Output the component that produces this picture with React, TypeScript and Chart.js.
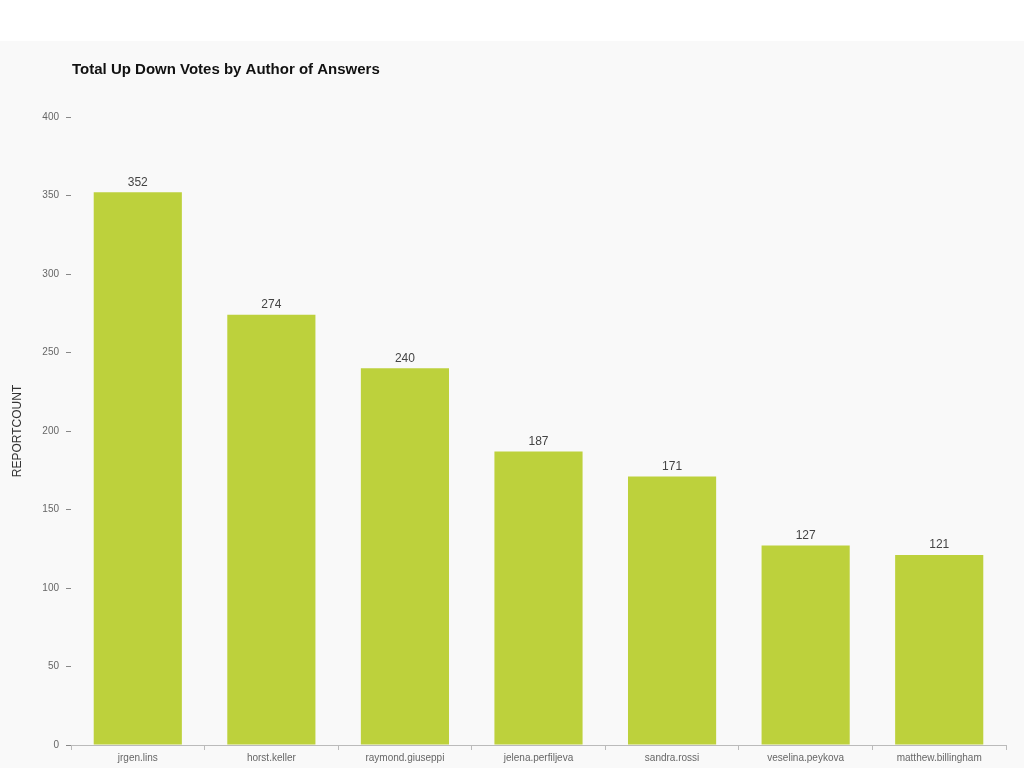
import React, { useEffect, useRef } from "react";
import { Chart, registerables } from "chart.js";

Chart.register(...registerables);

const categories = [
  "jrgen.lins",
  "horst.keller",
  "raymond.giuseppi",
  "jelena.perfiljeva",
  "sandra.rossi",
  "veselina.peykova",
  "matthew.billingham",
];
const reportCounts = [352, 274, 240, 187, 171, 127, 121];
const chartTitle = "Total Up Down Votes by Author of Answers";
const yAxisTitle = "REPORTCOUNT";

const FONT = "'Liberation Sans', Arial, Helvetica, sans-serif";

const extrasPlugin = {
  id: "extras",
  afterDatasetsDraw(chart: any) {
    const ctx = chart.ctx;
    const area = chart.chartArea;
    ctx.save();
    // title
    ctx.font = `bold 15px ${FONT}`;
    ctx.fillStyle = "#111";
    ctx.textAlign = "left";
    ctx.textBaseline = "middle";
    ctx.fillText(chartTitle, area.left + 1, 28.5);
    // y axis title
    ctx.save();
    ctx.translate(18, (area.top + area.bottom) / 2);
    ctx.rotate(-Math.PI / 2);
    ctx.font = `12px ${FONT}`;
    ctx.fillStyle = "#333";
    ctx.textAlign = "center";
    ctx.textBaseline = "middle";
    ctx.fillText(yAxisTitle, 0, 0);
    ctx.restore();
    // value labels
    const meta = chart.getDatasetMeta(0);
    ctx.font = `12px ${FONT}`;
    ctx.fillStyle = "#444";
    ctx.textAlign = "center";
    ctx.textBaseline = "bottom";
    meta.data.forEach((bar: any, i: number) => {
      ctx.fillText(String(reportCounts[i]), bar.x, bar.y - 4);
    });
    ctx.restore();
  },
};

export default function App() {
  const ref = useRef<HTMLCanvasElement | null>(null);
  useEffect(() => {
    if (!ref.current) return;
    const chart = new Chart(ref.current, {
      type: "bar",
      data: {
        labels: categories,
        datasets: [
          {
            data: reportCounts,
            backgroundColor: "#bdd13c",
            barPercentage: 0.66,
            categoryPercentage: 1,
          },
        ],
      },
      options: {
        animation: false,
        responsive: false,
        maintainAspectRatio: false,
        layout: { padding: { top: 76, right: 18, left: 0, bottom: 0 } },
        plugins: {
          legend: { display: false },
          title: { display: false },
          tooltip: { enabled: false },
        },
        scales: {
          x: {
            afterFit: (s: any) => {
              s.height = 23;
            },
            border: { display: true, color: "#bbb" },
            grid: {
              drawOnChartArea: false,
              drawTicks: true,
              tickLength: 5,
              color: "#bbb",
            },
            ticks: {
              color: "#666",
              font: { size: 10, family: FONT },
              padding: 2,
              maxRotation: 0,
              autoSkip: false,
            },
          },
          y: {
            min: 0,
            max: 400,
            afterFit: (s: any) => {
              s.width = 71;
            },
            border: { display: false },
            grid: {
              drawOnChartArea: false,
              drawTicks: true,
              tickLength: 5,
              color: "#888",
            },
            ticks: {
              stepSize: 50,
              color: "#666",
              font: { size: 10, family: FONT },
              padding: 7,
            },
          },
        },
      },
      plugins: [extrasPlugin],
    });
    return () => chart.destroy();
  }, []);
  return (
    <div
      style={{
        position: "fixed",
        left: 0,
        top: 0,
        width: 1024,
        height: 768,
        background: "#fff",
      }}
    >
      <div
        style={{
          position: "absolute",
          left: 0,
          top: 41,
          width: 1024,
          height: 727,
          background: "#f9f9f9",
        }}
      >
        <canvas ref={ref} width={1024} height={727} style={{ display: "block" }} />
      </div>
    </div>
  );
}
